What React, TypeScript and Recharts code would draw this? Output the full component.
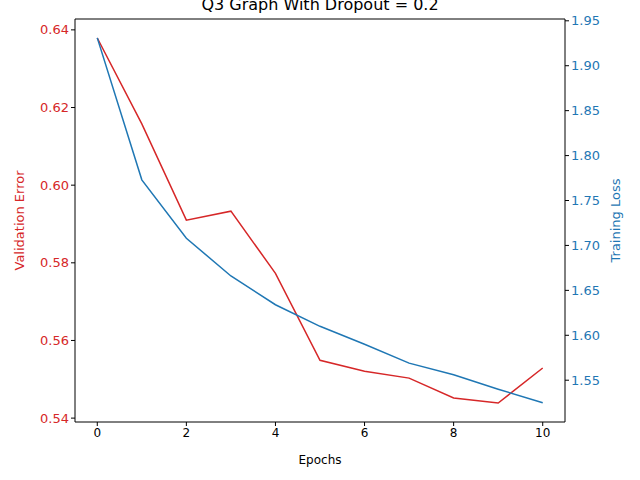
import React from "react";
import { ComposedChart, Line, XAxis, YAxis } from "recharts";

const epochs = [0, 1, 2, 3, 4, 5, 6, 7, 8, 9, 10];
const valError = [0.6379, 0.6158, 0.591, 0.5933, 0.5773, 0.5549, 0.5521, 0.5503, 0.5452, 0.5439, 0.5529];
const trainLoss = [1.931, 1.773, 1.708, 1.666, 1.634, 1.61, 1.59, 1.569, 1.556, 1.54, 1.525];
const leftTicks = [0.54, 0.56, 0.58, 0.6, 0.62, 0.64];
const rightTicks = [1.55, 1.6, 1.65, 1.7, 1.75, 1.8, 1.85, 1.9, 1.95];
const xTicks = [0, 2, 4, 6, 8, 10];

const data = epochs.map((e, i) => ({ epoch: e, val: valError[i], loss: trainLoss[i] }));
const RED = "#d62728";
const BLUE = "#1f77b4";
const font = "DejaVu Sans";

export default function App() {
  return (
    <div style={{ position: "absolute", left: 0, top: 0, width: 640, height: 480, background: "#fff", fontFamily: font }}>
      <div style={{ position: "absolute", top: -5, width: 640, textAlign: "center", fontSize: 16 }}>
        Q3 Graph With Dropout = 0.2
      </div>
      <ComposedChart width={640} height={480} data={data} margin={{ top: 19, bottom: 0, left: 0, right: 0 }}>
        <XAxis
          dataKey="epoch"
          type="number"
          domain={[-0.5, 10.5]}
          ticks={xTicks}
          tick={{ fill: "#000", fontSize: 12, fontFamily: font }}
          tickLine={{ stroke: "#000" }}
          axisLine={{ stroke: "#000" }}
          tickSize={4}
          label={{ value: "Epochs", position: "insideBottom", offset: 16, fill: "#000", fontSize: 12, fontFamily: font }}
          height={58}
        />
        <YAxis
          yAxisId="l"
          width={75}
          domain={[0.539, 0.6428]}
          ticks={leftTicks}
          tickFormatter={(v: number) => v.toFixed(2)}
          tick={{ fill: RED, fontSize: 13, fontFamily: font }}
          tickLine={{ stroke: "#000" }}
          axisLine={{ stroke: "#000" }}
          tickSize={4}
          label={{ value: "Validation Error", angle: -90, position: "insideLeft", offset: 19, fill: RED, fontSize: 13, fontFamily: font, style: { textAnchor: "middle" } }}
        />
        <YAxis
          yAxisId="r"
          orientation="right"
          width={75}
          domain={[1.5035, 1.952]}
          ticks={rightTicks}
          tickFormatter={(v: number) => v.toFixed(2)}
          tick={{ fill: BLUE, fontSize: 13, fontFamily: font }}
          tickLine={{ stroke: "#000" }}
          axisLine={{ stroke: "#000" }}
          tickSize={4}
          label={{ value: "Training Loss", angle: -90, position: "insideRight", offset: 25, fill: BLUE, fontSize: 13, fontFamily: font, style: { textAnchor: "middle" } }}
        />
        <Line yAxisId="l" dataKey="val" stroke={RED} strokeWidth={1.5} dot={false} isAnimationActive={false} />
        <Line yAxisId="r" dataKey="loss" stroke={BLUE} strokeWidth={1.5} dot={false} isAnimationActive={false} />
        <line x1={75} y1={19} x2={565} y2={19} stroke="#000" />
      </ComposedChart>
    </div>
  );
}
